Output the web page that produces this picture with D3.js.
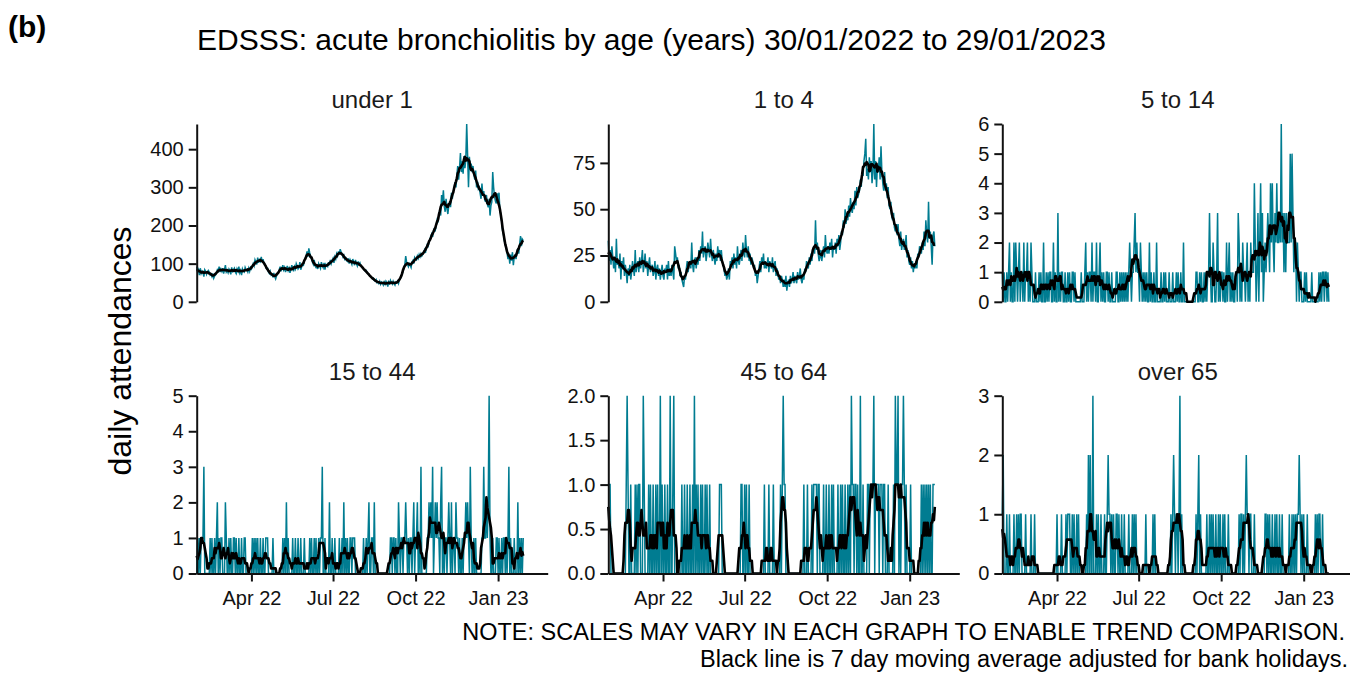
<!DOCTYPE html>
<html>
<head>
<meta charset="utf-8">
<script src="https://cdn.jsdelivr.net/npm/d3@7"></script>
<style>
  body { margin: 0; background: #fff; }
  svg { font-family: "Liberation Sans", Arial, sans-serif; }
</style>
</head>
<body>
<svg id="chart" width="1350" height="674"></svg>
<script>
// daily attendances, 30/01/2022 .. 29/01/2023, one row per week
const under1 = [
  92, 78, 84, 70, 88, 74, 80,
  76, 66, 84, 80, 72, 78, 82,
  78, 70, 72, 66, 74, 62, 68,
  70, 76, 84, 80, 92, 78, 86,
  80, 88, 74, 84, 96, 78, 82,
  76, 86, 82, 72, 90, 80, 84,
  88, 78, 74, 86, 80, 92, 76,
  82, 70, 86, 80, 78, 90, 84,
  84, 78, 88, 80, 90, 86, 92,
  100, 94, 110, 104, 98, 116, 102,
  110, 106, 118, 104, 112, 100, 98,
  92, 86, 88, 78, 74, 80, 70,
  72, 64, 76, 66, 60, 68, 72,
  78, 84, 92, 80, 88, 96, 84,
  90, 78, 86, 94, 82, 88, 76,
  84, 96, 88, 80, 92, 86, 100,
  94, 86, 90, 104, 84, 92, 98,
  96, 108, 114, 120, 132, 118, 140,
  128, 120, 112, 104, 98, 110, 94,
  90, 98, 86, 100, 94, 88, 104,
  96, 90, 102, 84, 98, 94, 92,
  104, 96, 110, 100, 108, 114, 102,
  118, 112, 126, 120, 132, 124, 138,
  130, 126, 118, 122, 112, 116, 108,
  106, 114, 100, 110, 104, 98, 112,
  104, 96, 110, 100, 94, 106, 98,
  102, 94, 92, 88, 86, 84, 80,
  82, 76, 74, 70, 68, 66, 64,
  60, 62, 56, 54, 58, 50, 52,
  48, 54, 46, 52, 50, 44, 52,
  46, 54, 50, 40, 52, 48, 56,
  50, 46, 54, 48, 44, 52, 50,
  54, 48, 58, 60, 66, 72, 80,
  88, 96, 120, 104, 98, 92, 100,
  96, 90, 104, 108, 100, 116, 112,
  110, 120, 114, 124, 118, 126, 120,
  124, 130, 136, 128, 142, 150, 146,
  156, 164, 172, 178, 170, 186, 192,
  188, 200, 214, 208, 230, 240, 226,
  280, 262, 292, 250, 236, 270, 244,
  230, 252, 264, 248, 286, 270, 290,
  296, 314, 300, 330, 356, 320, 350,
  390, 340, 368, 336, 382, 350, 372,
  466, 384, 300, 380, 346, 362, 340,
  356, 334, 320, 344, 300, 316, 296,
  300, 284, 270, 310, 278, 290, 268,
  262, 280, 256, 248, 270, 226, 252,
  262, 340, 300, 276, 264, 258, 284,
  268, 286, 240, 230, 210, 186, 176,
  160, 150, 142, 128, 112, 126, 100,
  124, 108, 130, 96, 118, 122, 112,
  132, 140, 126, 150, 172, 146, 164,
  160
];

const oneTo4 = [
  33, 22, 28, 20, 30, 24, 18,
  24, 16, 34, 20, 22, 18, 26,
  12, 22, 18, 24, 14, 20, 16,
  10, 18, 14, 20, 12, 16, 22,
  18, 14, 28, 16, 20, 22, 16,
  24, 18, 22, 28, 16, 20, 26,
  18, 22, 14, 20, 24, 16, 18,
  20, 14, 16, 22, 12, 18, 20,
  14, 18, 12, 16, 20, 14, 12,
  18, 16, 20, 12, 22, 14, 18,
  14, 20, 16, 12, 30, 26, 22,
  24, 18, 20, 14, 16, 12, 10,
  8, 14, 12, 18, 22, 16, 20,
  22, 18, 32, 20, 16, 22, 24,
  18, 24, 20, 28, 22, 30, 26,
  38, 24, 28, 30, 22, 26, 32,
  28, 24, 34, 26, 22, 28, 24,
  20, 26, 22, 30, 24, 28, 22,
  28, 22, 20, 18, 14, 16, 12,
  14, 18, 12, 22, 20, 24, 18,
  26, 20, 24, 18, 30, 22, 20,
  24, 28, 22, 32, 26, 24, 36,
  28, 24, 30, 22, 26, 20, 24,
  22, 18, 20, 14, 16, 10, 14,
  18, 22, 16, 24, 20, 26, 18,
  22, 18, 20, 24, 16, 22, 20,
  18, 24, 16, 20, 22, 14, 18,
  16, 12, 14, 10, 14, 12, 8,
  12, 8, 14, 6, 10, 12, 8,
  14, 10, 12, 16, 10, 14, 12,
  10, 16, 12, 14, 18, 12, 10,
  14, 12, 18, 16, 22, 20, 18,
  24, 20, 26, 22, 28, 30, 26,
  44, 28, 32, 26, 22, 24, 28,
  22, 26, 30, 24, 36, 28, 26,
  30, 26, 32, 28, 34, 24, 30,
  28, 32, 26, 34, 30, 36, 28,
  32, 38, 36, 44, 40, 50, 42,
  48, 44, 52, 46, 56, 50, 48,
  54, 50, 60, 52, 62, 56, 58,
  60, 66, 62, 70, 68, 76, 80,
  88, 68, 72, 66, 78, 70, 76,
  64, 70, 96, 66, 76, 62, 74,
  70, 78, 66, 84, 70, 64, 60,
  70, 60, 64, 56, 62, 52, 50,
  54, 46, 44, 48, 40, 38, 42,
  36, 42, 34, 30, 38, 28, 32,
  34, 28, 30, 36, 24, 28, 22,
  20, 24, 18, 22, 16, 20, 18,
  22, 18, 26, 24, 30, 28, 26,
  32, 28, 38, 30, 44, 36, 32,
  54, 34, 38, 30, 20, 36, 38,
  30
];

// small counts: one digit per day, grouped by week
const fiveTo14 = "1010010 1201002 0210120 1102011 2010210 0010001 0100200 1010110 0201003 0101100 " +
  "1001010 0110100 0000100 0120101 1020110 2001201 0100110 1001000 0110010 1010101 " +
  "0121011 2312110 2101010 1002010 0100200 0010010 1000100 0100010 1001002 0000000 " +
  "0000001 1001010 0101011 3100210 0130101 1010020 1201010 0110320 1021101 2010211 " +
  "1420130 2413012 1232142 4213242 2326231 3132225 2531220 2101100 0101000 0010000 " +
  "0001010 1101101 0";
const fifteenTo44 = "0101011 1300000 0101001 0120101 1000210 0101001 1010010 0100110 0000001 0101010 " +
  "0100100 1110000 0100000 0000010 1020100 0010010 0100100 0100000 1010010 1001011 " +
  "3001000 0200100 1000010 0102010 1001101 1100000 0000100 1012001 1020000 0000000 " +
  "0000001 1011010 0210110 1121010 1101201 1201030 0000011 2121301 2121102 3010110 " +
  "1210201 1021101 0010112 1210310 0101000 0001131 1212510 0100011 0100101 1010130 " +
  "1000100 0201010 1";
const fortyfiveTo64 = "1110000 0000000 0000001 2100100 0010101 1000210 0001010 0100101 0020100 1001002 " +
  "0012000 0000010 0100100 1001020 1010010 1001010 0100000 0000011 1000000 0000000 " +
  "0000000 0110010 1001000 0000000 0000001 0000100 0010000 0001012 1100000 0000000 " +
  "0000000 0100010 0001011 1101100 0010010 0100101 0000100 1010010 0101021 1011010 " +
  "0200100 0011011 1120111 1011101 1000100 0001021 1201011 2101000 0100000 0000001 " +
  "0101010 1010011 1";
const over65 = "1200010 0100001 0010101 1000010 0000100 0100000 0000000 0000000 0000010 0001000 " +
  "0101110 0101001 0100000 0001020 2003000 1010010 0010012 1101010 0110100 1001000 " +
  "0100010 1010000 0000001 0000000 1010000 0000000 0000001 0121011 0130100 0000000 " +
  "0000001 0120100 0000100 1010100 1001010 0101000 1000000 0000010 1101012 1101100 " +
  "0100000 0000001 1010100 1001010 0100100 0000010 0101010 1121010 1000100 0000001 " +
  "0101100 1000000 0";

const digits = s => s.replace(/ /g, "").split("").map(Number);

const ageGroups = ["under 1", "1 to 4", "5 to 14", "15 to 44", "45 to 64", "over 65"];
const series = [under1, oneTo4, digits(fiveTo14), digits(fifteenTo44), digits(fortyfiveTo64), digits(over65)];
const yTicks = [
  [0, 100, 200, 300, 400],
  [0, 25, 50, 75],
  [0, 1, 2, 3, 4, 5, 6],
  [0, 1, 2, 3, 4, 5],
  [0, 0.5, 1, 1.5, 2],
  [0, 1, 2, 3]
];
const yFormats = ["d", "d", "d", "d", ".1f", "d"];
const xTickDates = [new Date(2022, 3, 1), new Date(2022, 6, 1), new Date(2022, 9, 1), new Date(2023, 0, 1)];
const firstDay = new Date(2022, 0, 30),
  lastDay = new Date(2023, 0, 29);

const panelW = 351,
  panelH = 177.8,
  panelLeft = [196.7, 608.3, 1002.3],
  panelTop = [124, 395.7],
  teal = "#007c91",
  ink = "#111";

const days = d3.timeDay.range(firstDay, d3.timeDay.offset(lastDay, 1));

// 7 day centred moving average
const movingAvg = vals =>
  vals.map((v, i) => d3.mean(vals.slice(Math.max(0, i - 3), i + 4)));

const x = d3
  .scaleTime()
  .domain([firstDay, new Date(2023, 1, 25, 7)])
  .range([0, panelW]);

const svg = d3.select("#chart");

series.forEach((vals, i) => {
  const row = Math.floor(i / 3),
    col = i % 3;
  const g = svg
    .append("g")
    .attr("transform", "translate(" + panelLeft[col] + "," + panelTop[row] + ")");

  const y = d3
    .scaleLinear()
    .domain([0, d3.max(vals)])
    .range([panelH, 0]);

  const daily = vals.map((v, j) => ({ date: days[j], v: v }));
  const avg = movingAvg(vals).map((v, j) => ({ date: days[j], v: v }));

  const line = d3
    .line()
    .x(d => x(d.date))
    .y(d => y(d.v));

  g.append("path")
    .datum(daily)
    .attr("d", line)
    .attr("fill", "none")
    .attr("stroke", teal)
    .attr("stroke-width", 1.5);

  g.append("path")
    .datum(avg)
    .attr("d", line)
    .attr("fill", "none")
    .attr("stroke", "#000")
    .attr("stroke-width", 2.6)
    .attr("stroke-linejoin", "round");

  const yAxis = g
    .append("g")
    .call(
      d3
        .axisLeft(y)
        .tickValues(yTicks[i])
        .tickFormat(d3.format(yFormats[i]))
        .tickSize(8)
        .tickSizeOuter(0)
        .tickPadding(5)
    );
  yAxis
    .attr("font-size", 20)
    .attr("font-family", "Liberation Sans, Arial, sans-serif")
    .attr("color", ink);
  yAxis.selectAll("path, line").attr("stroke-width", 2);

  if (row === 1) {
    const xAxis = g
      .append("g")
      .attr("transform", "translate(0," + panelH + ")")
      .call(
        d3
          .axisBottom(x)
          .tickValues(xTickDates)
          .tickFormat(d3.timeFormat("%b %y"))
          .tickSize(8)
          .tickSizeOuter(0)
          .tickPadding(9)
      );
    xAxis
      .attr("font-size", 20)
      .attr("font-family", "Liberation Sans, Arial, sans-serif")
      .attr("color", ink);
    xAxis.selectAll("path, line").attr("stroke-width", 2);
  }

  g.append("text")
    .attr("x", panelW / 2)
    .attr("y", -16)
    .attr("text-anchor", "middle")
    .attr("font-size", 24)
    .attr("fill", "#1a1a1a")
    .text(ageGroups[i]);
});

svg
  .append("text")
  .attr("x", 8)
  .attr("y", 37)
  .attr("font-size", 30)
  .attr("font-weight", "bold")
  .text("(b)");

svg
  .append("text")
  .attr("x", 197)
  .attr("y", 50)
  .attr("font-size", 30)
  .text("EDSSS: acute bronchiolitis by age (years) 30/01/2022 to 29/01/2023");

svg
  .append("text")
  .attr("transform", "translate(131,351) rotate(-90)")
  .attr("text-anchor", "middle")
  .attr("font-size", 32)
  .text("daily attendances");

svg
  .append("text")
  .attr("x", 1345)
  .attr("y", 640)
  .attr("text-anchor", "end")
  .attr("font-size", 23.5)
  .text("NOTE: SCALES MAY VARY IN EACH GRAPH TO ENABLE TREND COMPARISON.");

svg
  .append("text")
  .attr("x", 1348)
  .attr("y", 667)
  .attr("text-anchor", "end")
  .attr("font-size", 23.5)
  .text("Black line is 7 day moving average adjusted for bank holidays.");
</script>
</body>
</html>
